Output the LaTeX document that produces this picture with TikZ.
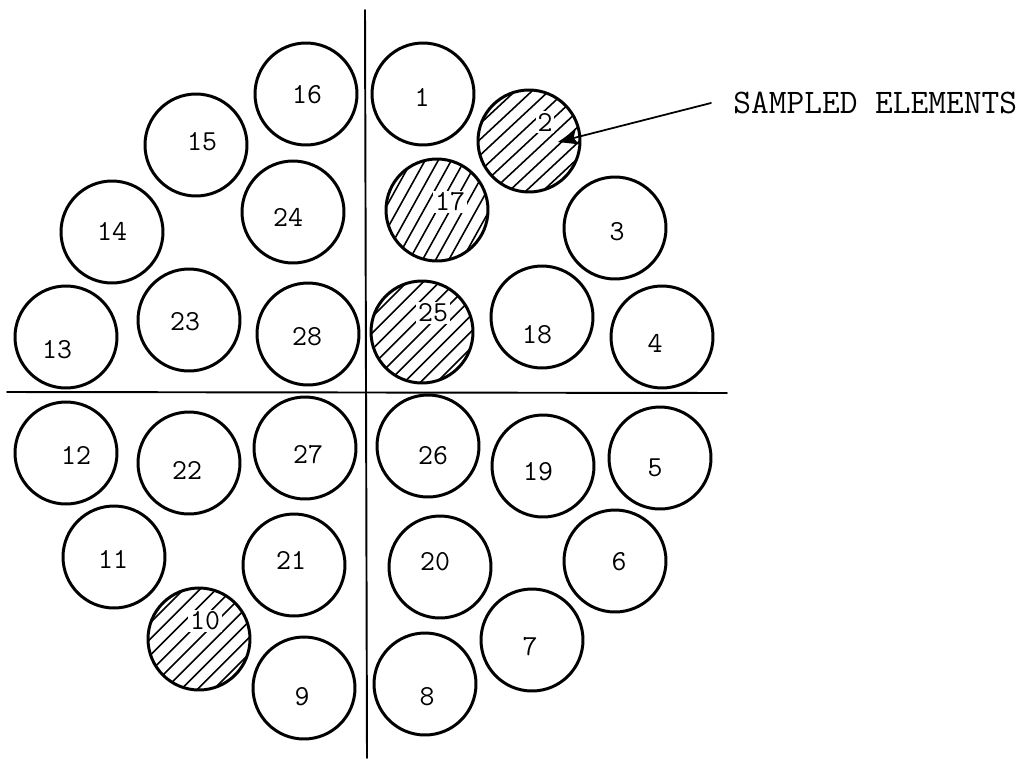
\documentclass[tikz,border=0pt]{standalone}
\usepackage{tikz}
\usetikzlibrary{arrows.meta}

\tikzset{
  elem/.style={draw,circle,line width=1.7pt,minimum size=2.04cm,inner sep=0pt},
  num/.style={font=\ttfamily\fontsize{16.5}{18}\selectfont,inner sep=1pt},
  hnum/.style={num,fill=white},
}
% hatching of a sampled element: node name, angle of the lines
\newcommand{\hatchelem}[2]{%
\begin{scope}[shift={(#1.center)},rotate=#2]
\clip (0,0) circle (1cm);
\foreach \k in {-4,...,4}
  \draw[line width=0.9pt] (-1.1cm,{\k*0.23cm}) -- (1.1cm,{\k*0.23cm});
\end{scope}}

\begin{document}
\begin{tikzpicture}[x=0.02cm,y=-0.02cm,>={Stealth[length=0.4cm,width=0.3cm,inset=0.08cm]},line cap=round]
\useasboundingbox (0,0) rectangle (1024,761);
% dividing lines
\draw[line width=1.1pt] (365,10) -- (367,758);
\draw[line width=1.1pt] (7,392) -- (727,393);
% elements
\node[elem] (e1) at (423,94) {};
\node[elem] (e2) at (529,141) {};
\node[elem] (e3) at (615,228) {};
\node[elem] (e4) at (662,337) {};
\node[elem] (e5) at (660,458) {};
\node[elem] (e6) at (615,561) {};
\node[elem] (e7) at (532,640) {};
\node[elem] (e8) at (425,684) {};
\node[elem] (e9) at (304,688) {};
\node[elem] (e10) at (199,639) {};
\node[elem] (e11) at (114,557) {};
\node[elem] (e12) at (66,453) {};
\node[elem] (e13) at (66,337) {};
\node[elem] (e14) at (112,232) {};
\node[elem] (e15) at (196,145) {};
\node[elem] (e16) at (306,94) {};
\node[elem] (e17) at (437,210) {};
\node[elem] (e18) at (542,317) {};
\node[elem] (e19) at (543,466) {};
\node[elem] (e20) at (440,567) {};
\node[elem] (e21) at (294,565) {};
\node[elem] (e22) at (189,463) {};
\node[elem] (e23) at (189,320) {};
\node[elem] (e24) at (293,212) {};
\node[elem] (e25) at (422,332) {};
\node[elem] (e26) at (428,446) {};
\node[elem] (e27) at (305,448) {};
\node[elem] (e28) at (308,334) {};
% sampled ones
\hatchelem{e2}{43}
\hatchelem{e17}{61}
\hatchelem{e25}{45}
\hatchelem{e10}{45}
% numbers
\node[num] (n1) at (422,97) {1};
\node[hnum] (n2) at (545,122) {2};
\node[num] (n3) at (617,232) {3};
\node[num] (n4) at (655,343) {4};
\node[num] (n5) at (655,468) {5};
\node[num] (n6) at (619,562) {6};
\node[num] (n7) at (530,647) {7};
\node[num] (n8) at (427,697) {8};
\node[num] (n9) at (302,697) {9};
\node[hnum] (n10) at (205,621) {10};
\node[num] (n11) at (113,559) {11};
\node[num] (n12) at (76,455) {12};
\node[num] (n13) at (57,350) {13};
\node[num] (n14) at (112,231) {14};
\node[num] (n15) at (202,142) {15};
\node[num] (n16) at (307,95) {16};
\node[hnum] (n17) at (450,202) {17};
\node[num] (n18) at (537,335) {18};
\node[num] (n19) at (538,472) {19};
\node[num] (n20) at (435,562) {20};
\node[num] (n21) at (291,560) {21};
\node[num] (n22) at (187,470) {22};
\node[num] (n23) at (185,322) {23};
\node[num] (n24) at (288,217) {24};
\node[hnum] (n25) at (433,313) {25};
\node[num] (n26) at (433,456) {26};
\node[num] (n27) at (308,455) {27};
\node[num] (n28) at (307,337) {28};
% label and arrow
\node[anchor=west,inner sep=0pt,font=\ttfamily\fontsize{19.6}{22}\selectfont] (lbl) at (733,103) {SAMPLED ELEMENTS};
\coordinate (tip) at (558,142);
\draw[->,line width=1pt] ([xshift=-0.44cm]lbl.west) -- (tip);
\end{tikzpicture}
\end{document}
